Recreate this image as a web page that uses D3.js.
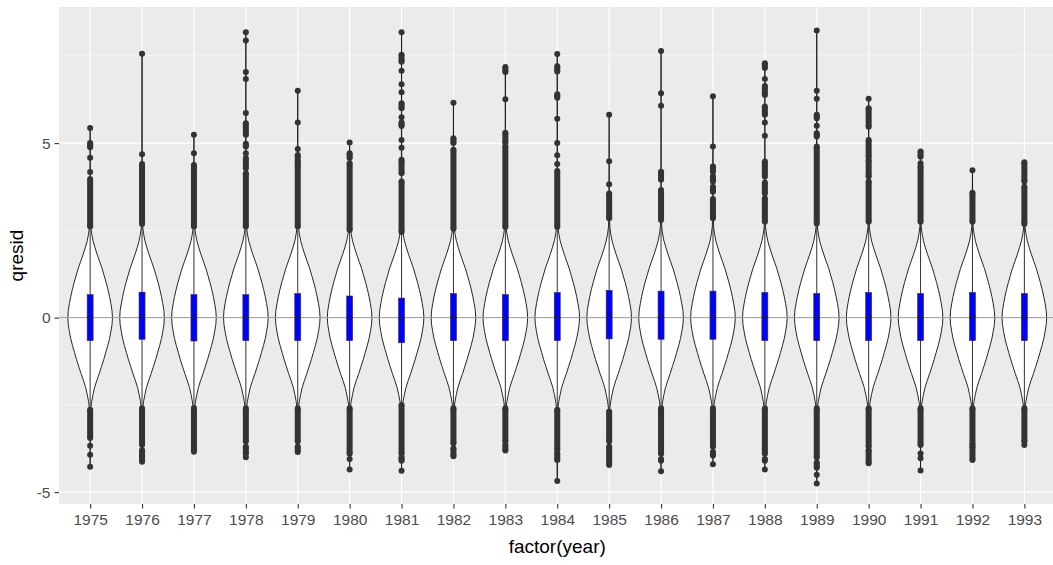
<!DOCTYPE html>
<html>
<head>
<meta charset="utf-8">
<script src="https://cdn.jsdelivr.net/npm/d3@7"></script>
<style>
  html, body { margin: 0; padding: 0; background: #fff; }
  svg { display: block; font-family: "Liberation Sans", Arial, sans-serif; }
</style>
</head>
<body>
<svg id="chart" width="1053" height="565"></svg>
<script>
// ---- data -------------------------------------------------------------
const years = ["1975","1976","1977","1978","1979","1980","1981","1982","1983","1984",
               "1985","1986","1987","1988","1989","1990","1991","1992","1993"];

const boxQ1     = [-0.66,-0.62,-0.67,-0.66,-0.66,-0.66,-0.72,-0.66,-0.66,-0.66,
                   -0.61,-0.62,-0.62,-0.66,-0.66,-0.66,-0.66,-0.66,-0.66];
const boxMedian = [0.00, 0.03, 0.00, 0.01, 0.01, 0.00,-0.02, 0.01, 0.00, 0.02,
                   0.05, 0.04, 0.03, 0.02, 0.01, 0.02, 0.01, 0.02, 0.01];
const boxQ3     = [0.66, 0.73, 0.66, 0.66, 0.69, 0.62, 0.56, 0.69, 0.66, 0.72,
                   0.78, 0.76, 0.76, 0.72, 0.69, 0.72, 0.69, 0.72, 0.69];
const whiskerLow  = [-2.55,-2.52,-2.5,-2.52,-2.52,-2.52,-2.45,-2.52,-2.52,-2.55,
                     -2.6,-2.52,-2.52,-2.52,-2.52,-2.52,-2.52,-2.52,-2.52];
const whiskerHigh = [2.52, 2.6, 2.52, 2.52, 2.52, 2.45, 2.38, 2.48, 2.52, 2.52,
                     2.75, 2.72, 2.75, 2.68, 2.62, 2.68, 2.68, 2.68, 2.6];

// outlying observations: runs of overlapping points as [low, high]
const upperOutliers = [
  [[2.61,3.97],[4.17,4.17],[4.58,4.58],[4.88,5.0],[5.43,5.43]],
  [[2.68,4.40],[4.68,4.68],[7.56,7.56]],
  [[2.61,4.18],[4.26,4.37],[4.71,4.71],[5.24,5.24]],
  [[2.61,4.14],[4.28,4.57],[4.71,4.71],[4.90,4.98],[5.24,5.57],[5.86,5.86],[6.84,6.84],[7.04,7.04],[7.94,7.94],[8.18,8.18]],
  [[2.61,4.36],[4.42,4.66],[4.83,4.83],[5.59,5.59],[6.50,6.50]],
  [[2.51,4.42],[4.57,4.71],[5.02,5.02]],
  [[2.45,3.90],[4.14,4.52],[4.87,4.87],[5.09,5.09],[5.49,5.59],[5.74,5.74],[6.0,6.14],[6.46,6.46],[6.69,6.69],[7.07,7.07],[7.33,7.53],[8.18,8.18]],
  [[2.55,4.81],[5.0,5.14],[6.16,6.16]],
  [[2.6,4.9],[5.0,5.3],[6.26,6.26],[7.04,7.18]],
  [[2.6,4.2],[4.4,4.4],[4.65,4.65],[5.0,5.0],[5.7,5.7],[6.3,6.4],[7.05,7.2],[7.55,7.55]],
  [[2.85,3.56],[3.82,3.82],[4.48,4.48],[5.81,5.81]],
  [[2.80,3.66],[3.95,4.18],[6.07,6.07],[6.43,6.43],[7.64,7.64]],
  [[2.85,3.40],[3.61,3.75],[3.9,4.05],[4.18,4.33],[4.90,4.90],[6.34,6.34]],
  [[2.75,3.42],[3.56,3.87],[4.04,4.47],[5.21,5.21],[5.59,5.59],[5.81,6.05],[6.38,6.64],[6.84,6.84],[7.15,7.29]],
  [[2.70,4.90],[5.19,5.28],[5.50,5.50],[5.71,5.81],[6.27,6.27],[6.50,6.50],[8.23,8.23]],
  [[2.75,3.90],[4.04,4.52],[4.61,5.09],[5.47,6.0],[6.27,6.27]],
  [[2.75,4.33],[4.42,4.42],[4.61,4.76]],
  [[2.75,3.58],[4.22,4.22]],
  [[2.68,3.75],[3.90,4.45]]
];
const lowerOutliers = [
  [[-3.45,-2.64],[-3.67,-3.67],[-3.93,-3.93],[-4.27,-4.27]],
  [[-3.65,-2.6],[-4.13,-3.8]],
  [[-3.84,-2.59]],
  [[-3.55,-2.6],[-3.9,-3.7],[-4.0,-4.0]],
  [[-3.55,-2.6],[-3.85,-3.7]],
  [[-3.9,-2.6],[-4.05,-4.05],[-4.35,-4.35]],
  [[-3.9,-2.5],[-4.1,-4.0],[-4.39,-4.39]],
  [[-3.6,-2.6],[-3.97,-3.75]],
  [[-3.55,-2.6],[-3.81,-3.65]],
  [[-3.79,-2.64],[-4.08,-3.88],[-4.68,-4.68]],
  [[-3.55,-2.69],[-4.22,-3.7]],
  [[-3.9,-2.6],[-4.1,-4.05],[-4.4,-4.4]],
  [[-3.7,-2.6],[-3.95,-3.85],[-4.2,-4.2]],
  [[-3.9,-2.6],[-4.1,-4.05],[-4.35,-4.35]],
  [[-4.0,-2.6],[-4.3,-4.15],[-4.5,-4.5],[-4.75,-4.75]],
  [[-3.7,-2.6],[-4.17,-3.8]],
  [[-3.65,-2.6],[-3.89,-3.89],[-4.03,-4.03],[-4.38,-4.38]],
  [[-3.65,-2.6],[-4.08,-3.70]],
  [[-3.55,-2.6],[-3.65,-3.65]]
];

// kernel density of qresid (relative to its peak), shared by all years
const densityAt    = [-5.0,-3.2,-2.8,-2.6,-2.4,-2.2,-2.0,-1.8,-1.6,-1.4,-1.2,-1.0,-0.8,-0.6,-0.4,-0.2,
                      0.0, 0.2, 0.4, 0.6, 0.8, 1.0, 1.2, 1.4, 1.6, 1.8, 2.0, 2.2, 2.4, 2.6, 2.8, 3.2, 8.5];
const densityValue = [0.004,0.01,0.02,0.03,0.07,0.13,0.20,0.30,0.41,0.51,0.61,0.70,0.79,0.87,0.93,0.98,
                      1.00,0.98,0.93,0.87,0.80,0.72,0.63,0.54,0.43,0.32,0.22,0.13,0.07,0.03,0.02,0.01,0.004];

const yTicks = [-5, 0, 5];
const yMinor = [-2.5, 2.5, 7.5];

// ---- layout -----------------------------------------------------------
const svg = d3.select("#chart");
const panel = { left: 59, right: 1055.5, top: 7, bottom: 504 };

const x = d3.scalePoint().domain(years).range([panel.left, panel.right]).padding(0.6);
const y = d3.scaleLinear().domain([-5.34, 8.90]).range([panel.bottom, panel.top]);
const step = x.step();

// panel background and grid
svg.append("rect")
  .attr("x", panel.left).attr("y", panel.top)
  .attr("width", panel.right - panel.left).attr("height", panel.bottom - panel.top)
  .attr("fill", "#EBEBEB");

svg.append("g").selectAll("line").data(yMinor).join("line")
  .attr("x1", panel.left).attr("x2", panel.right)
  .attr("y1", d => y(d)).attr("y2", d => y(d))
  .attr("stroke", "#fff").attr("stroke-width", 0.55);
svg.append("g").selectAll("line").data(yTicks).join("line")
  .attr("x1", panel.left).attr("x2", panel.right)
  .attr("y1", d => y(d)).attr("y2", d => y(d))
  .attr("stroke", "#fff").attr("stroke-width", 1.1);
svg.append("g").selectAll("line").data(years).join("line")
  .attr("x1", d => x(d)).attr("x2", d => x(d))
  .attr("y1", panel.top).attr("y2", panel.bottom)
  .attr("stroke", "#fff").attr("stroke-width", 1.1);

// ---- violins ----------------------------------------------------------
const maxHalf = step * 0.43;
const rows = years.map((yr, i) => {
  const lo = d3.min(lowerOutliers[i], r => r[0]);
  const hi = d3.max(upperOutliers[i], r => r[1]);
  const prof = [{v: lo, d: 0}];
  densityAt.forEach((v, k) => { if (v > lo && v < hi) prof.push({v, d: densityValue[k]}); });
  prof.push({v: hi, d: 0});
  return { yr, i, prof };
});

const area = d3.area()
  .y(p => y(p.v));

svg.append("g").selectAll("path").data(rows).join("path")
  .attr("d", r => area
      .x0(p => x(r.yr) - p.d * maxHalf)
      .x1(p => x(r.yr) + p.d * maxHalf)(r.prof))
  .attr("fill", "#fff")
  .attr("stroke", "#1a1a1a")
  .attr("stroke-width", 0.95);

// reference line at zero
svg.append("line")
  .attr("x1", panel.left).attr("x2", panel.right)
  .attr("y1", y(0)).attr("y2", y(0))
  .attr("stroke", "#999").attr("stroke-width", 1);

// ---- boxplots ---------------------------------------------------------
const boxW = 6;
const gBox = svg.append("g");
rows.forEach(r => {
  const cx = x(r.yr), i = r.i;
  gBox.append("line")
    .attr("x1", cx).attr("x2", cx)
    .attr("y1", y(whiskerHigh[i])).attr("y2", y(whiskerLow[i]))
    .attr("stroke", "#333").attr("stroke-width", 1);
  gBox.append("rect")
    .attr("x", cx - boxW / 2).attr("width", boxW)
    .attr("y", y(boxQ3[i])).attr("height", y(boxQ1[i]) - y(boxQ3[i]))
    .attr("fill", "#0000FF").attr("stroke", "#333").attr("stroke-width", 0.6);
  gBox.append("line")
    .attr("x1", cx - boxW / 2).attr("x2", cx + boxW / 2)
    .attr("y1", y(boxMedian[i])).attr("y2", y(boxMedian[i]))
    .attr("stroke", "#222").attr("stroke-width", 1.4);
});

// ---- outliers ---------------------------------------------------------
const pr = 3;
const gOut = svg.append("g").attr("fill", "#333333");
rows.forEach(r => {
  const cx = x(r.yr);
  upperOutliers[r.i].concat(lowerOutliers[r.i]).forEach(([a, b]) => {
    gOut.append("circle").attr("cx", cx).attr("cy", y(a)).attr("r", pr);
    if (b !== a) {
      gOut.append("circle").attr("cx", cx).attr("cy", y(b)).attr("r", pr);
      gOut.append("rect")
        .attr("x", cx - pr).attr("width", 2 * pr)
        .attr("y", y(b)).attr("height", y(a) - y(b));
    }
  });
});

// ---- axes -------------------------------------------------------------
const yAxis = svg.append("g")
  .attr("transform", `translate(${panel.left},0)`)
  .call(d3.axisLeft(y).tickValues(yTicks).tickSize(4.5).tickPadding(4).tickFormat(d3.format("d")));
const xAxis = svg.append("g")
  .attr("transform", `translate(0,${panel.bottom})`)
  .call(d3.axisBottom(x).tickSize(4.5).tickPadding(5));
[yAxis, xAxis].forEach(g => {
  g.attr("font-size", null).attr("font-family", null);
  g.select(".domain").remove();
  g.selectAll(".tick line").attr("stroke", "#333").attr("stroke-width", 1.1);
  g.selectAll(".tick text").attr("fill", "#4D4D4D").style("font-size", "15.5px");
});
yAxis.selectAll(".tick text").text(d => d < 0 ? "-" + Math.abs(d) : String(d));

svg.append("text")
  .attr("x", (panel.left + panel.right) / 2).attr("y", 553)
  .attr("text-anchor", "middle")
  .style("font-size", "19px").attr("fill", "#000")
  .text("factor(year)");
svg.append("text")
  .attr("transform", `translate(23,${(panel.top + panel.bottom) / 2}) rotate(-90)`)
  .attr("text-anchor", "middle")
  .style("font-size", "19px").attr("fill", "#000")
  .text("qresid");
</script>
</body>
</html>
